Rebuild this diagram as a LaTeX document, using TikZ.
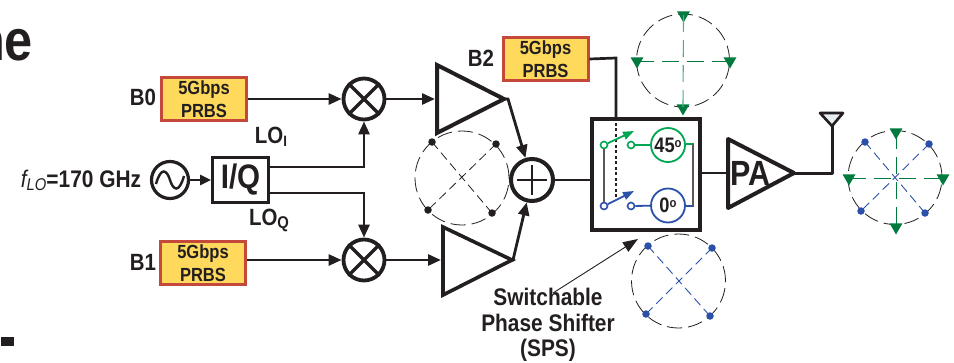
\documentclass[tikz,border=0pt]{standalone}
\usepackage{fontspec}
\setmainfont{Liberation Sans}
\newfontfamily\nar[FakeStretch=0.87]{Liberation Sans}
\usetikzlibrary{arrows.meta,shapes.geometric}
\definecolor{ink}{HTML}{231F20}
\definecolor{boxred}{HTML}{C4493A}
\definecolor{boxyel}{HTML}{FFD95C}
\definecolor{swgreen}{HTML}{00A651}
\definecolor{cgreen}{HTML}{007A3D}
\definecolor{cgreenl}{HTML}{4FAE82}
\definecolor{cblue}{HTML}{2A50A8}
\definecolor{antfill}{HTML}{E8ECF5}
\newcommand{\fs}[1]{\fontsize{#1}{#1}\selectfont}
\tikzset{
  x=1pt,y=-1pt,
  txt/.style={inner sep=0pt,outer sep=0pt,text=ink,font=\nar\bfseries\fs{23.5}},
  prbs/.style={draw=boxred,fill=boxyel,line width=3pt,minimum width=85pt,minimum height=43pt,inner sep=0pt,align=center,text=ink,font=\nar\bfseries\fs{19}},
  mixer/.style={circle,draw=ink,line width=3.8pt,minimum size=41pt,inner sep=0pt},
  wire/.style={draw=ink,line width=2.7pt},
  arrowwire/.style={wire,-{Triangle[length=13pt,width=11pt]}},
  amp/.style={draw=ink,line width=4pt,line join=miter,fill=white},
  dashcirc/.style={draw=ink,line width=0.8pt,dash pattern=on 15pt off 6pt},
  dashblack/.style={draw=ink,line width=0.8pt,dash pattern=on 9pt off 5pt},
  dashblue/.style={draw=cblue,line width=0.9pt,dash pattern=on 9pt off 5pt},
  dashgreen/.style={draw=cgreenl,line width=1.1pt,dash pattern=on 17pt off 8pt},
  dashgreenb/.style={draw=cgreen,line width=1pt,dash pattern=on 17pt off 8pt},
  dotk/.style={circle,fill=ink,inner sep=0pt,minimum size=7.5pt},
  dotb/.style={circle,fill=cblue,inner sep=0pt,minimum size=7.5pt},
  trig/.style={regular polygon,regular polygon sides=3,shape border rotate=180,fill=cgreen,inner sep=0pt,minimum size=15pt},
  portg/.style={circle,draw=swgreen,fill=white,line width=1.6pt,inner sep=0pt,minimum size=7pt},
  portb/.style={circle,draw=cblue,fill=white,line width=1.6pt,inner sep=0pt,minimum size=7pt},
  shifter/.style={circle,line width=1.8pt,minimum size=34pt,inner sep=0pt,text=ink,font=\nar\bfseries\fs{21}},
}
\begin{document}
\begin{tikzpicture}
\useasboundingbox (0,0) rectangle (954,362);
% stray slide pieces
\node[txt,anchor=base east,font=\nar\bfseries\fs{58}] (title) at (33,60) {ne};
\fill[ink] (1,337) rectangle (14,346);

% PRBS boxes
\node[prbs] (b0) at (204,99) {5Gbps\\[4pt]PRBS};
\node[prbs] (b1) at (203,263) {5Gbps\\[4pt]PRBS};
\node[prbs] (b2) at (545.5,59) {5Gbps\\[4pt]PRBS};
\node[txt] (b0l) at (143,97) {B0};
\node[txt] (b1l) at (143,262) {B1};
\node[txt] (b2l) at (481,58) {B2};

% LO
\node[txt] (flo) at (81,180) {{\mdseries\itshape\fs{24}f\raisebox{-3pt}{\fs{17}LO}}{\fs{24}=170 GHz}};
\node[circle,draw=ink,line width=3.2pt,minimum size=37pt,inner sep=0pt] (osc) at (170,180) {};
\draw[ink,line width=2.4pt] (156,184) .. controls (161,166) and (167,170) .. (170,180) .. controls (173,190) and (179,194) .. (184,176);
\node[draw=ink,line width=2.8pt,minimum width=56pt,minimum height=45pt,inner sep=0pt,text=ink,font=\nar\bfseries\fs{34}] (iq) at (240.5,180) {I/Q};
\draw[draw=ink,line width=2.2pt,-{Triangle[length=11pt,width=10pt]}] (osc) -- (iq);
\node[txt] (loi) at (271,137) {LO\raisebox{-3pt}{\fs{15}I}};
\node[txt] (loq) at (269,220) {LO\raisebox{-3pt}{\fs{17}Q}};

% mixers
\node[mixer] (m1) at (364,99) {};
\node[mixer] (m2) at (364,260) {};
\foreach \m in {m1,m2}{
  \draw[ink,line width=3.2pt] (\m.north west) -- (\m.south east);
  \draw[ink,line width=3.2pt] (\m.north east) -- (\m.south west);
}
\draw[arrowwire] (b0.east |- m1) -- (m1);
\draw[arrowwire] (b1.east |- m2) -- (m2);
\coordinate (ioutI) at (iq.east |- 0,167);
\coordinate (ioutQ) at (iq.east |- 0,193);
\draw[arrowwire] (ioutI) -| (m1);
\draw[arrowwire] (ioutQ) -| (m2);

% amplifiers
\coordinate (a1tip) at (504,99);
\coordinate (a2tip) at (512,260);
\draw[amp] (437,65) -- (437,133) -- (a1tip) -- cycle;
\draw[amp,line width=3.6pt] (443,227) -- (443,295) -- (a2tip) -- cycle;
\draw[arrowwire] (m1) -- (435,99);
\draw[arrowwire] (m2) -- (441,260);

% adder
\node[circle,draw=ink,line width=4pt,minimum size=42pt,inner sep=0pt] (add) at (532,180) {};
\draw[ink,line width=1.4pt] (517,180) -- (547,180) (532,165) -- (532,195);
\coordinate (a1out) at (508,99);
\coordinate (a2out) at (513,260);
\draw[arrowwire,line width=2.8pt] (a1tip) -- (a1out) -- (add);
\draw[arrowwire,line width=2.8pt] (a2tip) -- (a2out) -- (add);

% black constellation
\node[circle,dashcirc,minimum size=94pt,inner sep=0pt] (cbk) at (462,178) {};
\node[dotk] (k1) at (432,142) {};
\node[dotk] (k2) at (496,144) {};
\node[dotk] (k3) at (428,210) {};
\node[dotk] (k4) at (492,213) {};
\draw[dashblack] (k1.center) -- (k4.center);
\draw[dashblack] (k2.center) -- (k3.center);

% SPS
\node[draw=ink,line width=3.6pt,minimum width=108pt,minimum height=111pt,inner sep=0pt] (sps) at (646,174.5) {};
\draw[wire] (add) -- (sps.west |- add);
\draw[wire] (b2.east) -- (616,58) coordinate (b2c) -- (sps.north -| b2c);
\coordinate (dotend) at (616,197);
\draw[ink,line width=2pt,dash pattern=on 3pt off 2.5pt] (sps.north -| b2c) -- (dotend);
\node[shifter,draw=swgreen] (p45) at (668,145) {45\raisebox{5pt}{\fs{13}o}};
\node[shifter,draw=cblue] (p0) at (668,205.5) {0\raisebox{5pt}{\fs{13}o}};
\node[portg] (g1) at (604,145) {};
\node[portg] (g2) at (631,145) {};
\node[portb] (u1) at (604,206) {};
\node[portb] (u2) at (631,206) {};
\draw[ink!75,line width=1.5pt] (g1) -- (u1);
\draw[swgreen,line width=1.8pt] (g2) -- (p45);
\draw[cblue,line width=1.8pt] (u2) -- (p0);
\coordinate (gtip) at (634,131);
\coordinate (utip) at (634,191);
\draw[swgreen,line width=1.8pt,-{Triangle[length=11pt,width=8pt]}] (g1) -- (gtip);
\draw[cblue,line width=1.8pt,-{Triangle[length=11pt,width=8pt]}] (u1) -- (utip);
\coordinate (jg) at (694,144);
\coordinate (ju) at (694,206);
\draw[swgreen,line width=1.6pt] (p45.east |- jg) -- (jg);
\draw[cblue,line width=1.6pt] (p0.east |- ju) -- (ju);
\draw[ink!75,line width=1.5pt] (693,144) -- (693,206);

% PA
\coordinate (patip) at (794,173);
\draw[wire] (sps.east |- patip) -- (728,173);
\draw[amp,line join=round] (728,139) -- (728,208) -- (patip) -- cycle;
\node[txt,font=\nar\bfseries\fs{35},anchor=west] (pal) at (730,173) {PA};

% antenna
\coordinate (antbase) at (832,126);
\draw[wire,line width=3pt,line join=round] (patip) -- (832,173) -- (antbase);
\draw[draw=ink,fill=antfill,line width=2.6pt,line join=round] (820,113) -- (843,113) -- (antbase) -- cycle;

% green constellation (top)
\node[circle,dashcirc,minimum size=93pt,inner sep=0pt] (cg) at (683,60.5) {};
\node[trig] (gt) at (683.5,15) {};
\node[trig] (gb) at (683,108) {};
\node[trig] (gl) at (637,61) {};
\node[trig] (gr) at (730,61) {};
\draw[dashgreen] (gt.center) -- (gb.center);
\draw[dashgreenb] (gl.center) -- (gr.center);

% blue constellation (bottom)
\node[circle,dashcirc,minimum size=94pt,inner sep=0pt] (cb) at (678.5,281) {};
\node[dotb] (q1) at (648,246) {};
\node[dotb] (q2) at (712,248) {};
\node[dotb] (q3) at (646,314) {};
\node[dotb] (q4) at (710,316) {};
\draw[dashblue] (q1.center) -- (q4.center);
\draw[dashblue] (q2.center) -- (q3.center);

% combined constellation
\node[circle,dashcirc,minimum size=94pt,inner sep=0pt] (cc) at (895,177.5) {};
\node[dotb] (r1) at (865,142) {};
\node[dotb] (r2) at (929,144) {};
\node[dotb] (r3) at (861,211) {};
\node[dotb] (r4) at (925,213) {};
\draw[dashblue] (r1.center) -- (r4.center);
\draw[dashblue] (r2.center) -- (r3.center);
\node[trig] (t1) at (896,132) {};
\node[trig] (t2) at (896,227) {};
\node[trig] (t3) at (849,178) {};
\node[trig] (t4) at (943,178) {};
\draw[dashgreenb] (t1.center) -- (t2.center);
\draw[dashgreenb] (t3.center) -- (t4.center);

% SPS label
\node[txt,align=center,font=\nar\bfseries\fs{24}] (spsl) at (548,325) {Switchable\\[1.5pt]Phase Shifter\\[1.5pt](SPS)};
\coordinate (spsptr) at (553,293);
\coordinate (spstip) at (638,239);
\draw[draw=ink,line width=0.9pt,-{Triangle[length=15pt,width=11pt]}] (spsptr) -- (spstip);
\end{tikzpicture}
\end{document}
